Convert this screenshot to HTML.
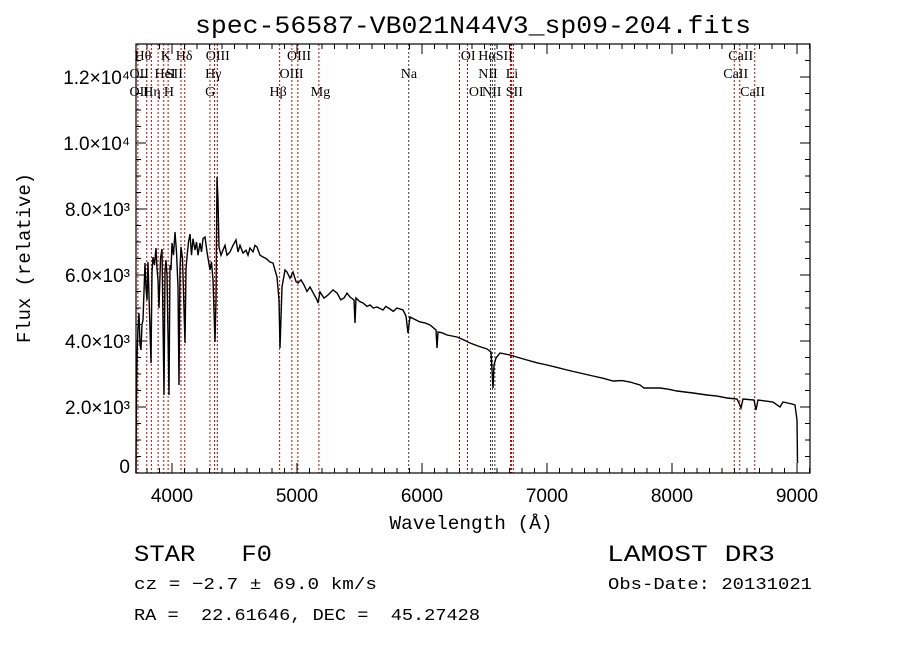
<!DOCTYPE html>
<html><head><meta charset="utf-8"><style>
html,body{margin:0;padding:0;background:#fff;}
svg{display:block;}
text{white-space:pre;}
</style></head><body>
<svg id="chart" width="900" height="649" viewBox="0 0 900 649" xmlns="http://www.w3.org/2000/svg">
<rect width="900" height="649" fill="#fff"/>
<text x="473" y="33" text-anchor="middle" font-family="Liberation Mono, monospace" font-size="25" textLength="556" lengthAdjust="spacingAndGlyphs">spec-56587-VB021N44V3_sp09-204.fits</text>
<g id="lines"></g>
<g id="labels" font-family="Liberation Serif, serif" font-size="14"></g>
<g id="spec"></g>
<rect x="136" y="44" width="674" height="429" fill="none" stroke="#000" stroke-width="1.2"/>
<g id="ticks"></g>
<text x="471" y="529" text-anchor="middle" font-family="Liberation Mono, monospace" font-size="19" textLength="163" lengthAdjust="spacingAndGlyphs">Wavelength (Å)</text>
<text transform="translate(30,258) rotate(-90)" text-anchor="middle" font-family="Liberation Mono, monospace" font-size="19" textLength="170" lengthAdjust="spacingAndGlyphs">Flux (relative)</text>
<g font-family="Liberation Mono, monospace">
<text x="134" y="561" font-size="23" textLength="138" lengthAdjust="spacingAndGlyphs" xml:space="preserve">STAR   F0</text>
<text x="607" y="561" font-size="23" textLength="168" lengthAdjust="spacingAndGlyphs">LAMOST DR3</text>
<text x="134" y="589" font-size="17" textLength="243" lengthAdjust="spacingAndGlyphs">cz = −2.7 ± 69.0 km/s</text>
<text x="608" y="589" font-size="17" textLength="204" lengthAdjust="spacingAndGlyphs">Obs-Date: 20131021</text>
<text x="134" y="620" font-size="17" textLength="346" lengthAdjust="spacingAndGlyphs" xml:space="preserve">RA =  22.61646, DEC =  45.27428</text>
</g>
</svg>
<script>
const wavelengths=[3712,3714,3720,3728,3736,3744,3752,3760,3768,3784,3792,3800,3808,3832,3840,3848,3860,3872,3880,3888,3896,3908,3920,3936,3944,3952,3960,3976,3984,3992,4000,4012,4024,4036,4048,4056,4064,4072,4084,4104,4112,4120,4132,4144,4156,4168,4184,4196,4208,4224,4236,4248,4264,4280,4304,4316,4328,4344,4352,4360,4368,4376,4392,4408,4424,4440,4464,4488,4512,4528,4544,4568,4592,4608,4624,4648,4664,4680,4704,4728,4752,4784,4808,4840,4856,4864,4880,4904,4920,4944,4968,4992,5008,5032,5056,5080,5104,5130,5160,5168,5184,5216,5248,5288,5320,5350,5376,5400,5424,5456,5464,5472,5500,5528,5560,5584,5610,5640,5688,5710,5744,5770,5800,5848,5872,5888,5904,5944,5984,6024,6064,6112,6120,6128,6160,6200,6240,6280,6336,6384,6448,6520,6552,6568,6576,6592,6624,6704,6770,6840,6920,7000,7080,7160,7264,7368,7450,7528,7600,7664,7744,7776,7904,7970,8040,8168,8280,8360,8440,8520,8536,8552,8568,8656,8672,8688,8750,8808,8864,8888,8960,8984,9000,9004];
const fluxes=[0,1900,3515,4400,4848,3900,3727,4500,4636,6363,5600,5242,6393,3333,6100,6545,6300,6818,6200,5848,5000,6500,6787,2363,6100,6454,6000,2363,6300,6151,6969,6600,7302,6700,5636,2666,6200,6848,6500,3939,6200,6545,7000,7242,6600,7100,6757,7000,6600,6969,6700,7100,7151,6700,6151,6400,5848,3969,5242,8969,8272,6848,6600,6757,6900,6600,6696,6900,7060,6700,6900,6666,6750,6600,6818,6700,6900,6848,6600,6545,6500,6393,6363,5939,5242,3787,5636,6150,6090,5900,6090,5800,5757,5850,5697,5500,5636,5450,5242,5151,5484,5300,5394,5550,5454,5250,5302,5450,5333,5242,4545,5302,5200,5151,5050,5090,5000,5030,4939,5050,4969,4900,5000,4939,4757,4242,4727,4650,4575,4550,4484,4333,3787,4272,4250,4181,4150,4121,4030,3939,3848,3757,3666,2575,3272,3484,3636,3575,3500,3424,3340,3272,3200,3121,3030,2939,2870,2787,2800,2757,2666,2575,2575,2540,2484,2424,2363,2330,2272,2242,2121,1969,2242,2212,1909,2212,2180,2151,2000,2151,2090,2060,1606,300];
const lineWaves=[3727,3798,3835,3889,3934,3969,4072,4102,4304,4340,4363,4861,4959,5007,5175,5894,6300,6364,6548,6563,6583,6708,6716,6731,8498,8542,8662];
const lineIsDark=[0,0,0,0,0,0,0,0,0,0,0,0,0,0,0,1,0,0,1,1,1,0,0,0,0,0,0];
const labelTexts=["Hθ","K","Hδ","OIII","OIII","OI","HαSII","CaII","OII","HeI","SII","Hγ","OIII","Na","NII","Li","CaII","OII","Hη","H","G","Hβ","Mg","OI","NII","SII","CaII"];
const labelWaves=[3700,3910,4030,4270,4920,6310,6450,8450,3660,3860,3950,4265,4860,5830,6450,6670,8410,3660,3770,3935,4265,4780,5110,6375,6480,6670,8545];
const labelRows=[0,0,0,0,0,0,0,0,1,1,1,1,1,1,1,1,1,2,2,2,2,2,2,2,2,2,2];
const xTicks=[4000,5000,6000,7000,8000,9000];
const yTicks=[0,2000,4000,6000,8000,10000,12000];
const yTickLabels=["0","2.0×10³","4.0×10³","6.0×10³","8.0×10³","1.0×10⁴","1.2×10⁴"];

const X0=136,X1=810,Y0=44,Y1=473;
function xs(w){return 172+(w-4000)*0.125;}
function ys(f){return 473-f*0.033;}
const NS='http://www.w3.org/2000/svg';
function mk(tag,attrs,parent){const e=document.createElementNS(NS,tag);for(const k in attrs)e.setAttribute(k,attrs[k]);parent.appendChild(e);return e;}

const gl=document.getElementById('lines');
lineWaves.forEach((w,i)=>{
  const l=mk('line',{x1:xs(w),x2:xs(w),y1:Y0,y2:Y1,stroke:lineIsDark[i]?'#333':'#d00000','stroke-width':1,'stroke-dasharray':'2,2'},gl);
  
  
});
const glab=document.getElementById('labels');
const rowY=[60,78,96];
labelTexts.forEach((t,i)=>{
  const e=mk('text',{x:xs(labelWaves[i]),y:rowY[labelRows[i]]},glab);
  e.textContent=t;
  
  
});
const pts=wavelengths.map((w,i)=>xs(w).toFixed(1)+','+ys(fluxes[i]).toFixed(1)).join(' ');
const pl=mk('polyline',{points:pts,fill:'none',stroke:'#000','stroke-width':1.4,'stroke-linejoin':'miter'},document.getElementById('spec'));



const gt=document.getElementById('ticks');
for(let w=3800;w<=9100;w+=100){
  const x=xs(w); if(x<X0||x>X1)continue;
  const len=(w%1000===0)?10:5;
  mk('line',{x1:x,x2:x,y1:Y1,y2:Y1-len,stroke:'#000'},gt);
  mk('line',{x1:x,x2:x,y1:Y0,y2:Y0+len,stroke:'#000'},gt);
}
for(let f=0;f<=13000;f+=500){
  const y=ys(f); if(y<Y0)continue;
  const len=(f%2000===0)?10:5;
  mk('line',{x1:X0,x2:X0+len,y1:y,y2:y,stroke:'#000'},gt);
  mk('line',{x1:X1,x2:X1-len,y1:y,y2:y,stroke:'#000'},gt);
}
xTicks.forEach(w=>{
  const e=mk('text',{x:xs(w),y:502,'text-anchor':'middle','font-family':'Liberation Sans, sans-serif','font-size':19},gt);
  e.textContent=String(w);
  
  
});
yTicks.forEach((f,i)=>{
  const e=mk('text',{x:130,y:ys(f)+(f===0?0:7),'text-anchor':'end','font-family':'Liberation Sans, sans-serif','font-size':19},gt);
  e.textContent=yTickLabels[i];
  
  
});
</script>
</body></html>
